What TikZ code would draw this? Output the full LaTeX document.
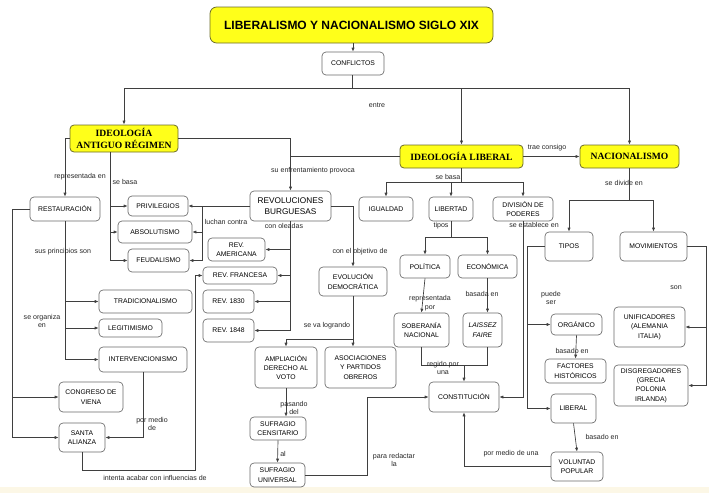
\documentclass[tikz,border=0pt]{standalone}
\usepackage{fontspec}
\setmainfont{Liberation Sans}
\newfontfamily\ylwfont{Liberation Serif}
\usetikzlibrary{arrows.meta,positioning}

\definecolor{linegray}{HTML}{3F3F3F}
\definecolor{boxgray}{HTML}{6A6A6A}
\definecolor{ylw}{HTML}{FFFF1A}
\definecolor{ylwedge}{HTML}{6B6B2A}
\definecolor{cream}{HTML}{FCF7E6}

\newcommand{\boxfont}{\fontsize{5.1}{7}\selectfont}
\newcommand{\lblfont}{\fontsize{5.3}{6.6}\selectfont}

\tikzset{
  concept/.style={draw=boxgray, fill=white, rounded corners=3pt, align=center,
    font=\boxfont, inner sep=1pt, line width=0.5pt},
  ideology/.style={concept, draw=ylwedge, fill=ylw, line width=0.6pt,
    font=\ylwfont\bfseries\fontsize{7.2}{9}\selectfont},
  sz/.style 2 args={minimum width=#1*0.75pt, minimum height=#2*0.75pt},
  link/.style={draw=linegray, line width=0.5pt},
  arr/.style={link, -{Latex[length=3pt,width=2.4pt]}},
  lbl/.style={font=\lblfont, align=center, inner sep=0.5pt, text=black!85}
}

\begin{document}
\begin{tikzpicture}[x=0.75pt, y=-0.75pt]

    \useasboundingbox (0,0) rectangle (709,493);
    \fill[cream] (0,487) rectangle (709,493);

    % Title and top level
    \node[concept, fill=ylw, draw=ylwedge, line width=0.6pt, rounded corners=5pt,
      font=\bfseries\fontsize{9}{11}\selectfont, sz={283}{36}] (title) at (351.5,25)
      {LIBERALISMO Y NACIONALISMO SIGLO XIX};
    \node[concept, sz={62}{23}] (confl) at (353,63.5) {CONFLICTOS};

    \node[ideology, sz={108}{27}] (ar) at (124,138.5) {IDEOLOGÍA\\ANTIGUO RÉGIMEN};
    \node[ideology, sz={123}{23}] (lib) at (461.5,156.5) {IDEOLOGÍA LIBERAL};
    \node[ideology, sz={99}{23}] (nac) at (629.5,156.5) {NACIONALISMO};

    \coordinate (split) at (352,88);
    \draw[arr] (title.south -| confl.north) -- (confl.north);
    \draw[link] (confl.south -| split) -- (split);
    \draw[arr] (split) -| (ar.north);
    \draw[arr] (split) -| (lib.north);
    \draw[arr] (split) -| (nac.north);
    \node[lbl] (entre) at (377,105) {entre};

    \draw[arr] (lib.east) -- (nac.west);
    \node[lbl] (trae) at (547,148) {trae consigo};

    % Antiguo Regimen side
    \node[concept, sz={70}{24}] (rest) at (65,209) {RESTAURACIÓN};
    \node[concept, sz={60}{20}] (priv) at (158,206) {PRIVILEGIOS};
    \node[concept, sz={74}{22}] (abso) at (155,232) {ABSOLUTISMO};
    \node[concept, sz={61}{23}] (feud) at (158.5,260.5) {FEUDALISMO};

    \draw[arr] (ar.west) -| (rest.north);
    \node[lbl] (repres) at (80,177) {representada en};

    \coordinate (tb) at (110,260.5);
    \draw[arr] (ar.south -| tb) |- (feud.west);
    \draw[arr] (tb |- priv.west) -- (priv.west);
    \draw[arr] (tb |- abso.west) -- (abso.west);
    \node[lbl] (basa1) at (125,182) {se basa};

    \node[concept, sz={93}{23}] (trad) at (145.5,301.5) {TRADICIONALISMO};
    \node[concept, sz={63}{18}] (legit) at (130.5,328) {LEGITIMISMO};
    \node[concept, sz={88}{25}] (interv) at (143,359.5) {INTERVENCIONISMO};
    \node[concept, sz={64}{30}] (viena) at (91,397) {CONGRESO DE\\VIENA};
    \node[concept, sz={46}{29}] (santa) at (82,437.5) {SANTA\\ALIANZA};

    \draw[arr] (rest.south) |- (interv.west);
    \draw[arr] (rest.south |- trad.west) -- (trad.west);
    \draw[arr] (rest.south |- legit.west) -- (legit.west);
    \node[lbl] (princ) at (63,252) {sus principios son};

    \coordinate (so) at (12,209);
    \draw[arr] (rest.west) -- (so) |- (santa.west);
    \draw[arr] (so |- viena.west) -- (viena.west);
    \node[lbl] (organ) at (42,321) {se organiza\\en};

    \draw[arr] (interv.south) |- (santa.east);
    \node[lbl] (pmedio) at (152,424) {por medio\\de};

    % Revoluciones burguesas
    \node[concept, font=\fontsize{6.2}{8.2}\selectfont, sz={81}{30}] (rev) at (290.5,206)
      {REVOLUCIONES\\BURGUESAS};
    \draw[arr] (ar.east) -| (rev.north);
    \draw[link] (lib.west) -- (lib.west -| rev.north);
    \node[lbl] (enfr) at (313,171) {su enfrentamiento provoca};

    \coordinate (lc) at (202,206);
    \draw[arr] (rev.west) -- (priv.east);
    \draw[arr] (lc) |- (feud.east);
    \draw[arr] (lc |- abso.east) -- (abso.east);
    \node[lbl] (luchan) at (226,222) {luchan contra};

    \node[concept, sz={57}{23}] (ram) at (236.5,249.5) {REV.\\AMERICANA};
    \node[concept, sz={74}{17}] (rfr) at (240,275.5) {REV. FRANCESA};
    \node[concept, sz={51}{23}] (r30) at (228.5,301.5) {REV. 1830};
    \node[concept, sz={51}{23}] (r48) at (228.5,330.5) {REV. 1848};

    \draw[arr] (rev.south) |- (r48.east);
    \foreach \n in {ram,rfr,r30}
      \draw[arr] (rev.south |- \n.east) -- (\n.east);
    \node[lbl] (olea) at (284,226) {con oleadas};

    \coordinate (ia) at (195,470);
    \draw[arr] (santa.south) |- (ia) |- (rfr.west);
    \node[lbl] (intenta) at (155,478) {intenta acabar con influencias de};

    % Evolucion democratica
    \node[concept, sz={68}{29}] (evo) at (353,281.5) {EVOLUCIÓN\\DEMOCRÁTICA};
    \draw[arr] (rev.east) -| (evo.north);
    \node[lbl] (objet) at (360,252) {con el objetivo de};

    \node[concept, sz={62}{41}] (ampl) at (286,367.5) {AMPLIACIÓN\\DERECHO AL\\VOTO};
    \node[concept, sz={71}{41}] (asoc) at (360.5,367.5) {ASOCIACIONES\\Y PARTIDOS\\OBREROS};
    \coordinate (vl) at (353,339);
    \draw[link] (evo.south) -- (vl);
    \draw[arr] (vl) -| (ampl.north);
    \draw[arr] (vl) -- (vl |- asoc.north);
    \node[lbl] (logr) at (327,326) {se va logrando};

    \node[concept, sz={56}{23}] (cens) at (278,428.5) {SUFRAGIO\\CENSITARIO};
    \node[concept, sz={55}{24}] (univ) at (277.5,475) {SUFRAGIO\\UNIVERSAL};
    \draw[arr] (ampl.south) -- (ampl.south |- cens.north);
    \node[lbl] (pasa) at (294,408) {pasando\\del};
    \draw[arr] (cens.south) -- (univ.north);
    \node[lbl] (al) at (283,454) {al};

    % Ideologia liberal
    \node[concept, sz={70}{30}] (const) at (464,397) {CONSTITUCIÓN};
    \coordinate (prk) at (367,397);
    \draw[arr] (univ.east) -| (prk) -- (const.west);
    \node[lbl] (redac) at (394,460) {para redactar\\la};

    \node[concept, sz={54}{24}] (igu) at (386,209) {IGUALDAD};
    \node[concept, sz={44}{24}] (lbt) at (451,209) {LIBERTAD};
    \node[concept, sz={60}{24}] (divp) at (523,209) {DIVISIÓN DE\\PODERES};
    \coordinate (lb) at (461.5,182);
    \draw[link] (lib.south) -- (lb);
    \draw[arr] (lb) -| (igu.north);
    \draw[arr] (lb) -| (divp.north);
    \draw[arr] (lb -| lbt.north) -- (lbt.north);
    \node[lbl] (basa2) at (448,177) {se basa};

    \node[concept, sz={50}{23}] (pol) at (425,266.5) {POLÍTICA};
    \node[concept, sz={59}{23}] (eco) at (487.5,266.5) {ECONÓMICA};
    \coordinate (lt) at (451,237);
    \draw[link] (lbt.south) -- (lt);
    \draw[arr] (lt) -| (pol.north);
    \draw[arr] (lt) -| (eco.north);
    \node[lbl] (tipos1) at (441,226) {tipos};

    \node[concept, sz={55}{34}] (sob) at (421.5,330) {SOBERANÍA\\NACIONAL};
    \node[concept, font=\boxfont\itshape, sz={39}{34}] (lf) at (482.5,330) {LAISSEZ\\FAIRE};
    \draw[arr] (pol.south) -- (sob.north);
    \node[lbl] (reprp) at (430,303) {representada\\por};
    \draw[arr] (eco.south) -- (eco.south |- lf.north);
    \node[lbl] (basada) at (482,294) {basada en};

    \coordinate (rp) at (464,365);
    \draw[link] (sob.south) |- (rp);
    \draw[link] (eco.south |- lf.south) |- (rp);
    \draw[arr] (rp) -- (const.north);
    \node[lbl] (regido) at (443,368) {regido por\\una};

    \draw[arr] (divp.south) |- (const.east);
    \node[lbl] (estab) at (534,225) {se establece en};

    % Nacionalismo
    \node[concept, sz={48}{29}] (tipos) at (569,246.5) {TIPOS};
    \node[concept, sz={67}{29}] (mov) at (653.5,246.5) {MOVIMIENTOS};
    \coordinate (nd) at (629.5,200);
    \draw[link] (nac.south) -- (nd);
    \draw[arr] (nd) -| (tipos.north);
    \draw[arr] (nd) -| (mov.north);
    \node[lbl] (divide) at (624,183) {se divide en};

    \node[concept, sz={51}{21}] (org) at (576.5,324.5) {ORGÁNICO};
    \node[concept, sz={61}{24}] (fact) at (575.5,371) {FACTORES\\HISTÓRICOS};
    \node[concept, sz={45}{29}] (libn) at (573.5,408.5) {LIBERAL};
    \node[concept, sz={52}{29}] (vol) at (577,466.5) {VOLUNTAD\\POPULAR};

    \coordinate (ps) at (527,246.5);
    \draw[arr] (tipos.west) -- (ps) |- (libn.west);
    \draw[arr] (ps |- org.west) -- (org.west);
    \node[lbl] (puede) at (551,298) {puede\\ser};

    \draw[arr] (org.south) -- (fact.north);
    \node[lbl] (bas1) at (572,351) {basado en};
    \draw[arr] (libn.south) -- (vol.north);
    \node[lbl] (bas2) at (602,437) {basado en};
    \draw[arr] (vol.west) -| (const.south);
    \node[lbl] (pmuna) at (511,454) {por medio de una};

    \node[concept, sz={71}{40}] (unif) at (649.5,327) {UNIFICADORES\\(ALEMANIA\\ITALIA)};
    \node[concept, sz={74}{41}] (disg) at (651,385.5) {DISGREGADORES\\(GRECIA\\POLONIA\\IRLANDA)};
    \coordinate (sn) at (706,246.5);
    \draw[arr] (mov.east) -- (sn) |- (disg.east);
    \draw[arr] (sn |- unif.east) -- (unif.east);
    \node[lbl] (son) at (676,288) {son};

  \end{tikzpicture}
\end{document}
